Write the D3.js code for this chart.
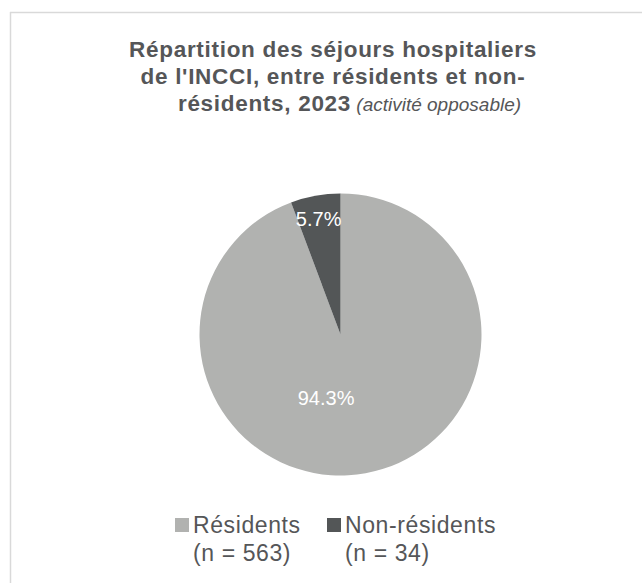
<!DOCTYPE html>
<html>
<head>
<meta charset="utf-8">
<script src="https://cdn.jsdelivr.net/npm/d3@7"></script>
<style>
  html, body { margin: 0; padding: 0; background: #ffffff; }
  svg { display: block; font-family: "Liberation Sans", Arial, Helvetica, sans-serif; }
</style>
</head>
<body>
<svg id="chart" width="642" height="583"></svg>
<script>
// Séjours hospitaliers de l'INCCI, 2023 (activité opposable)
const categories = ["Résidents", "Non-résidents"];
const counts = [563, 34];
const shares = [94.3, 5.7];
const shareLabels = ["94.3%", "5.7%"];
const legendCounts = ["(n = 563)", "(n = 34)"];
const colors = ["#b1b2b0", "#535657"];

const titleLines = [
  "Répartition des séjours hospitaliers",
  "de l'INCCI, entre résidents et non-",
];
const titleLast = "résidents, 2023";
const titleNote = " (activité opposable)";

const svg = d3.select("#chart");
const W = 642, H = 583;
const textColor = "#555658";

// frame (top and left edges)
svg.append("line").attr("x1", 10).attr("x2", W).attr("y1", 12.5).attr("y2", 12.5)
  .attr("stroke", "#d9d9d9").attr("stroke-width", 1.5);
svg.append("line").attr("x1", 10.5).attr("x2", 10.5).attr("y1", 12).attr("y2", H)
  .attr("stroke", "#d9d9d9").attr("stroke-width", 1.5);

// title
const titleX = 333;
const title = svg.append("g").attr("fill", textColor);
titleLines.forEach((t, i) => {
  title.append("text")
    .attr("x", titleX).attr("y", 57 + i * 27)
    .attr("text-anchor", "middle")
    .attr("font-size", 22.5).attr("font-weight", "bold")
    .attr("letter-spacing", 0.7)
    .text(t);
});
const last = title.append("text")
  .attr("x", 349.5).attr("y", 57 + 2 * 27)
  .attr("text-anchor", "middle");
last.append("tspan").attr("font-size", 22.5).attr("font-weight", "bold")
  .attr("letter-spacing", 0.7).text(titleLast);
last.append("tspan").attr("font-size", 19).attr("font-style", "italic")
  .text(titleNote);

// pie
const cx = 340.5, cy = 334.5, r = 141;
const data = categories.map((c, i) => ({ name: c, n: counts[i], share: shares[i], label: shareLabels[i], color: colors[i] }));
const pie = d3.pie().sort(null).value(d => d.share);
const arcs = pie(data);
const arc = d3.arc().innerRadius(0).outerRadius(r);

const g = svg.append("g").attr("transform", `translate(${cx},${cy})`);
g.selectAll("path.slice").data(arcs).join("path")
  .attr("class", "slice")
  .attr("d", arc)
  .attr("fill", d => d.data.color);

// value labels inside the slices
const labelArcs = [
  d3.arc().innerRadius(0).outerRadius(130),   // large slice
  d3.arc().innerRadius(234).outerRadius(0),   // small slice, near the rim
];
const labelShift = [[-26, 0], [-1, 0]];
g.selectAll("text.val").data(arcs).join("text")
  .attr("class", "val")
  .attr("transform", (d, i) => {
    const c = labelArcs[i].centroid(d);
    return `translate(${c[0] + labelShift[i][0]},${c[1] + labelShift[i][1]})`;
  })
  .attr("text-anchor", "middle")
  .attr("dy", "0.35em")
  .attr("font-size", 20)
  .attr("fill", "#ffffff")
  .text(d => d.data.label);

// legend
const legendX = [175, 327];
const leg = svg.append("g");
data.forEach((d, i) => {
  const lg = leg.append("g").attr("transform", `translate(${legendX[i]},0)`);
  lg.append("rect").attr("x", 0).attr("y", 518).attr("width", 14).attr("height", 14)
    .attr("fill", d.color);
  lg.append("text").attr("x", 18).attr("y", 533)
    .attr("font-size", 23).attr("letter-spacing", 0.6).attr("fill", textColor)
    .text(d.name);
  lg.append("text").attr("x", 18).attr("y", 561)
    .attr("font-size", 23).attr("letter-spacing", 0.6).attr("fill", textColor)
    .text(legendCounts[i]);
});
</script>
</body>
</html>
